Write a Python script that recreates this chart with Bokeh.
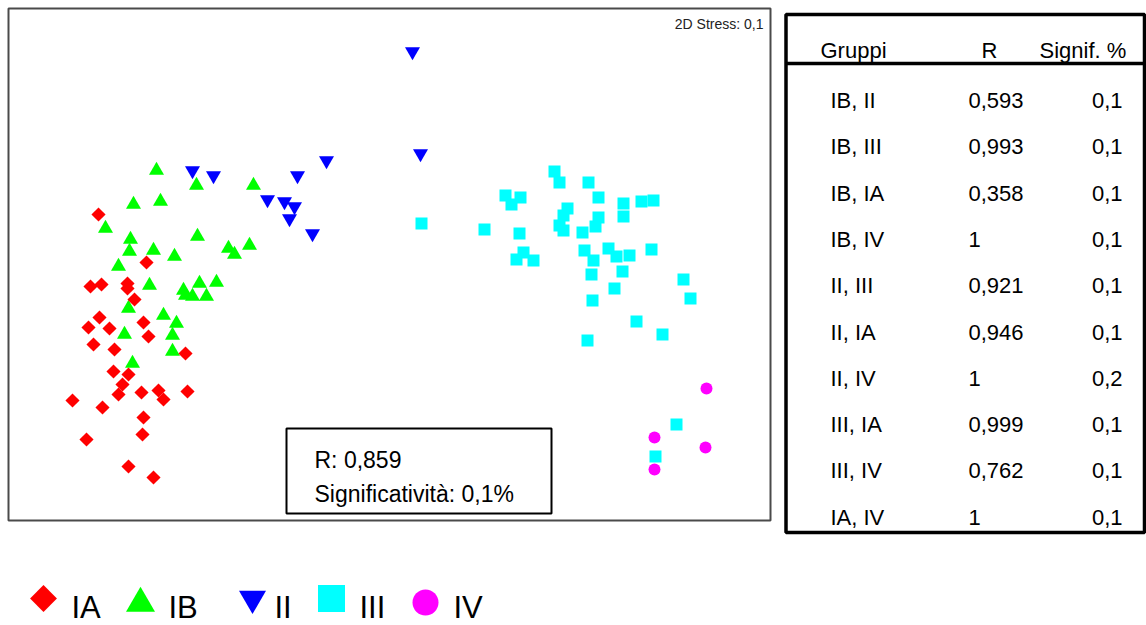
import math

from bokeh.core.properties import value
from bokeh.embed import file_html
from bokeh.layouts import column, row
from bokeh.models import ColumnDataSource, Range1d
from bokeh.plotting import figure
from bokeh.resources import INLINE

FONT = "Liberation Sans"

# ---- nMDS ordination coordinates, one pair of lists per group ----
ia_x = [-2.92, -2.44, -3.00, -2.89, -2.63, -2.63, -2.56, -2.91, -3.02, -2.81,
        -2.47, -2.42, -2.97, -2.76, -2.05, -2.77, -2.62, -2.68, -2.72, -3.18,
        -2.88, -2.49, -2.32, -2.27, -2.03, -2.47, -2.48, -3.04, -2.62, -2.37]
ia_y = [0.51, 0.03, -0.21, -0.19, -0.18, -0.23, -0.34, -0.52, -0.62, -0.63,
        -0.57, -0.71, -0.79, -0.84, -0.88, -1.06, -1.09, -1.19, -1.29, -1.35,
        -1.42, -1.27, -1.25, -1.34, -1.26, -1.52, -1.69, -1.74, -2.01, -2.12]

ib_x = [-2.34, -1.94, -1.37, -2.57, -2.30, -2.85, -2.60, -1.93, -2.61, -2.37,
        -1.62, -1.56, -1.41, -2.16, -2.72, -2.41, -2.07, -2.05, -1.98, -1.91,
        -1.74, -1.84, -2.62, -2.27, -2.14, -2.66, -2.18, -2.18, -2.58]
ib_y = [0.95, 0.80, 0.80, 0.61, 0.64, 0.37, 0.26, 0.29, 0.14, 0.15,
        0.17, 0.11, 0.20, 0.09, -0.01, -0.20, -0.25, -0.30, -0.31, -0.18,
        -0.17, -0.31, -0.43, -0.50, -0.58, -0.69, -0.70, -0.86, -0.98]

ii_x = [-1.98, -1.77, -0.64, -0.93, -1.23, -1.06, -0.96, -1.01, -0.78, 0.22, 0.30]
ii_y = [0.95, 0.90, 1.05, 0.90, 0.66, 0.64, 0.59, 0.47, 0.32, 2.14, 1.12]

iii_x = [1.64, 1.69, 1.98, 1.15, 1.30, 1.21, 2.08, 2.33, 2.51, 2.63,
         1.77, 1.73, 2.08, 2.33, 0.94, 1.29, 1.69, 1.73, 1.92, 2.05,
         1.94, 2.18, 1.33, 1.26, 1.43, 2.03, 2.26, 2.39, 2.61, 2.32,
         2.01, 2.93, 2.24, 3.00, 2.02, 2.46, 2.72, 1.97, 0.31, 2.86, 2.65]
iii_y = [0.94, 0.83, 0.83, 0.70, 0.68, 0.61, 0.68, 0.62, 0.64, 0.65,
         0.57, 0.50, 0.48, 0.49, 0.36, 0.32, 0.40, 0.35, 0.33, 0.39,
         0.15, 0.17, 0.13, 0.06, 0.05, 0.05, 0.09, 0.10, 0.16, -0.06,
         -0.09, -0.14, -0.23, -0.33, -0.35, -0.56, -0.69, -0.75, 0.42, -1.59, -1.91]

iv_x = [3.16, 2.64, 3.15, 2.64]
iv_y = [-1.23, -1.72, -1.82, -2.04]

groups = ["IA", "IB", "II", "III", "IV"]
group_colors = ["#ff0000", "#00ff00", "#0000ff", "#00ffff", "#ff00ff"]

stress = 0.1
global_r = 0.859
global_signif = 0.1

# ---- pairwise ANOSIM results ----
pairs = ["IB, II", "IB, III", "IB, IA", "IB, IV", "II, III",
         "II, IA", "II, IV", "III, IA", "III, IV", "IA, IV"]
pair_r = [0.593, 0.993, 0.358, 1, 0.921, 0.946, 1, 0.999, 0.762, 1]
pair_signif = [0.1, 0.1, 0.1, 0.1, 0.1, 0.1, 0.2, 0.1, 0.1, 0.1]


def it_num(v, digits):
    """Italian-style number: decimal comma, integers without decimals."""
    if float(v).is_integer() and digits == 3:
        return str(int(v))
    return f"{v:.{digits}f}".replace(".", ",")


TOP_H = 540      # height of the ordination + table row
LEG_H = 625 - TOP_H

# ---- ordination panel: canvas-wide frame, plot box drawn as a rectangle ----
P1_W = 780


def fx(px):
    return (px - 390) / 100


def fy(py):
    return (265 - py) / 100


p1 = figure(width=P1_W, height=TOP_H,
            x_range=Range1d(fx(0), fx(P1_W)), y_range=Range1d(fy(TOP_H), fy(0)),
            output_backend="svg", toolbar_location=None,
            x_axis_location=None, y_axis_location=None, min_border=0)
p1.grid.visible = False
p1.outline_line_color = None
p1.background_fill_color = "white"
p1.border_fill_color = "white"

# plot box
p1.quad(left=[fx(8)], right=[fx(770)], top=[fy(8)], bottom=[fy(520)],
        fill_color=None, line_color="#4a4a4a", line_width=2)

series = {
    "IA": (ia_x, ia_y, "square", math.pi / 4, 10),
    "IB": (ib_x, ib_y, "triangle", 0, 15),
    "II": (ii_x, ii_y, "inverted_triangle", 0, 15),
    "III": (iii_x, iii_y, "square", 0, 12),
    "IV": (iv_x, iv_y, "circle", 0, 12),
}
for name in ["II", "IB", "IA", "III", "IV"]:
    xs, ys, mk, ang, sz = series[name]
    col = group_colors[groups.index(name)]
    p1.scatter(xs, ys, marker=mk, angle=ang, size=sz,
               fill_color=col, line_color=None)

p1.text(x=[fx(763)], y=[fy(23)], text=[f"2D Stress: {it_num(stress, 1)}"],
        text_font=value(FONT), text_font_size="14px", text_color="#222222",
        text_align="right", text_baseline="middle")

# global R box
p1.quad(left=[fx(286)], right=[fx(551)], top=[fy(428)], bottom=[fy(513)],
        fill_color="white", line_color="black", line_width=2)
p1.text(x=[fx(314), fx(314)], y=[fy(459.5), fy(493)],
        text=[f"R: {it_num(global_r, 3)}", f"Significatività: {it_num(global_signif, 1)}%"],
        text_font=value(FONT), text_font_size="23px", text_color="black",
        text_align="left", text_baseline="middle")

# ---- pairwise table ----
p2 = figure(width=1146 - P1_W, height=TOP_H, x_range=Range1d(P1_W, 1146),
            y_range=Range1d(TOP_H, 0),
            output_backend="svg", toolbar_location=None,
            x_axis_location=None, y_axis_location=None, min_border=0)
p2.grid.visible = False
p2.outline_line_color = None
p2.quad(left=[785.5], right=[1144], top=[14], bottom=[532],
        fill_color=None, line_color="black", line_width=3.5)
p2.segment(x0=[785.5], y0=[63], x1=[1144], y1=[63], line_color="black", line_width=3.5)

TABLE_FS = "22px"
p2.text(x=[820, 981, 1039], y=[50, 50, 50], text=["Gruppi", "R", "Signif. %"],
        text_font=value(FONT), text_font_size=TABLE_FS, text_color="black",
        text_align="left", text_baseline="middle")

row_y = [100 + i * 46.3 for i in range(len(pairs))]
tbl = ColumnDataSource(dict(
    y=row_y,
    pair=pairs,
    r=[it_num(v, 3) for v in pair_r],
    s=[it_num(v, 1) for v in pair_signif],
    xp=[830] * len(pairs), xr=[968] * len(pairs), xs=[1122] * len(pairs),
))
common = dict(text_font=value(FONT), text_font_size=TABLE_FS, text_color="black",
              text_baseline="middle")
p2.text(x="xp", y="y", text="pair", source=tbl, text_align="left", **common)
p2.text(x="xr", y="y", text="r", source=tbl, text_align="left", **common)
p2.text(x="xs", y="y", text="s", source=tbl, text_align="right", **common)

# ---- legend strip (coordinates measured from the top of the page) ----
p3 = figure(width=1146, height=LEG_H, x_range=Range1d(0, 1146),
            y_range=Range1d(625, TOP_H),
            output_backend="svg", toolbar_location=None,
            x_axis_location=None, y_axis_location=None, min_border=0)
p3.grid.visible = False
p3.outline_line_color = None

leg_marker_x = [43, 140, 252, 331, 425]
leg_marker_y = [598, 603, 598, 598, 602]
leg_label_x = [71, 168, 274, 359, 453]
leg = ColumnDataSource(dict(
    x=leg_marker_x, y=leg_marker_y, lx=leg_label_x, ly=[607] * len(groups),
    name=groups, color=group_colors,
    marker=["square", "triangle", "inverted_triangle", "square", "circle"],
    angle=[math.pi / 4, 0, 0, 0, 0],
    size=[19, 29, 27, 27, 26],
))
p3.scatter(x="x", y="y", marker="marker", angle="angle", size="size",
           fill_color="color", line_color=None, source=leg)
p3.text(x="lx", y="ly", text="name", source=leg, text_font=value(FONT),
        text_font_size="31px", text_color="black",
        text_align="left", text_baseline="middle")

layout = column(row(p1, p2), p3)
open("out.html", "w").write(file_html(layout, INLINE))
